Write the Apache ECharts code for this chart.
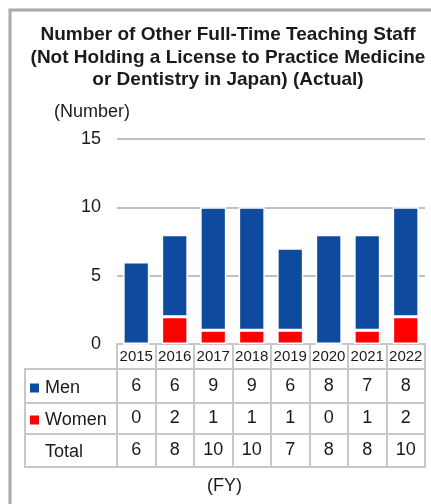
<!DOCTYPE html>
<html>
<head>
<meta charset="utf-8">
<script src="https://cdn.jsdelivr.net/npm/echarts@6/dist/echarts.min.js"></script>
<style>
  html, body { margin: 0; padding: 0; background: #fff; }
  #chart { width: 431px; height: 504px; }
</style>
</head>
<body>
<div id="chart"></div>
<script>
const years = ['2015', '2016', '2017', '2018', '2019', '2020', '2021', '2022'];
const men = [6, 6, 9, 9, 6, 8, 7, 8];
const women = [0, 2, 1, 1, 1, 0, 1, 2];
const total = [6, 8, 10, 10, 7, 8, 8, 10];
const yTicks = [0, 5, 10, 15];

const FONT = 'Liberation Sans, Arial, sans-serif';
const TEXT = '#1a1a1a';
const LINE = '#c8c8c8';

const chart = echarts.init(document.getElementById('chart'));

// one table row = one extra category axis hung under the grid
function rowAxis(offset, height, values, showLabel, size) {
  return {
    type: 'category',
    data: years,
    position: 'bottom',
    offset: offset,
    axisLine: { show: true, lineStyle: { color: LINE, width: 2 } },
    axisTick: { show: height > 0, interval: 0, length: height, lineStyle: { color: LINE, width: 2 } },
    axisLabel: {
      show: showLabel,
      interval: 0,
      margin: height / 2,
      verticalAlign: 'middle',
      color: TEXT,
      fontFamily: FONT,
      fontSize: size || 18,
      formatter: (v, i) => values ? String(values[i]) : v
    },
    splitLine: { show: false }
  };
}

const option = {
  animation: false,
  title: [
    {
      text: 'Number of Other Full-Time Teaching Staff\n(Not Holding a License to Practice Medicine\nor Dentistry in Japan) (Actual)',
      left: 228,
      top: 24,
      padding: 0,
      textAlign: 'center',
      textStyle: { fontFamily: FONT, fontSize: 19, fontWeight: 'bold', color: TEXT, lineHeight: 22.5 }
    },
    {
      text: '(Number)',
      left: 54,
      top: 103,
      padding: 0,
      textStyle: { fontFamily: FONT, fontSize: 18, fontWeight: 'normal', color: TEXT }
    },
    {
      text: '(FY)',
      left: 207,
      top: 477,
      padding: 0,
      textStyle: { fontFamily: FONT, fontSize: 18, fontWeight: 'normal', color: TEXT }
    }
  ],
  legend: {
    orient: 'vertical',
    left: 28,
    top: 379,
    padding: 0,
    itemWidth: 11,
    itemHeight: 11,
    itemGap: 14,
    selectedMode: false,
    textStyle: { fontFamily: FONT, fontSize: 18, color: TEXT },
    data: [
      { name: 'Men', icon: 'rect' },
      { name: 'Women', icon: 'rect' },
      { name: 'Total', icon: 'none' }
    ]
  },
  grid: { left: 117, right: 6, top: 139, bottom: 160 },
  xAxis: [
    rowAxis(0, 25, null, true, 15),
    rowAxis(25, 34, men, true),
    rowAxis(59, 31, women, true),
    rowAxis(90, 33, total, true),
    rowAxis(123, 0, null, false)
  ],
  yAxis: {
    type: 'value',
    min: yTicks[0],
    max: yTicks[yTicks.length - 1],
    interval: 5,
    axisLine: { show: false },
    axisTick: { show: false },
    axisLabel: { color: TEXT, fontFamily: FONT, fontSize: 18, margin: 16 },
    splitLine: { lineStyle: { color: '#c0c0c0', width: 2 } }
  },
  graphic: [
    {
      type: 'rect',
      shape: { x: 10, y: 10, width: 460, height: 540 },
      style: { fill: 'none', stroke: '#a8a8a8', lineWidth: 3 },
      silent: true
    },
    { type: 'rect', shape: { x: 25, y: 369, width: 92, height: 34 }, style: { fill: 'none', stroke: LINE, lineWidth: 2 }, silent: true },
    { type: 'rect', shape: { x: 25, y: 403, width: 92, height: 31 }, style: { fill: 'none', stroke: LINE, lineWidth: 2 }, silent: true },
    { type: 'rect', shape: { x: 25, y: 434, width: 92, height: 33 }, style: { fill: 'none', stroke: LINE, lineWidth: 2 }, silent: true }
  ],
  series: [
    {
      name: 'Women',
      type: 'bar',
      stack: 'staff',
      data: women,
      barWidth: '68%',
      itemStyle: { color: '#ff0000', borderColor: '#fff', borderWidth: 1.5 }
    },
    {
      name: 'Men',
      type: 'bar',
      stack: 'staff',
      data: men,
      barWidth: '68%',
      itemStyle: { color: '#0e4a9e', borderColor: '#fff', borderWidth: 1.5 }
    },
    {
      name: 'Total',
      type: 'line',
      data: total,
      symbol: 'none',
      silent: true,
      lineStyle: { opacity: 0 },
      itemStyle: { color: TEXT }
    }
  ]
};

chart.setOption(option);
</script>
</body>
</html>
